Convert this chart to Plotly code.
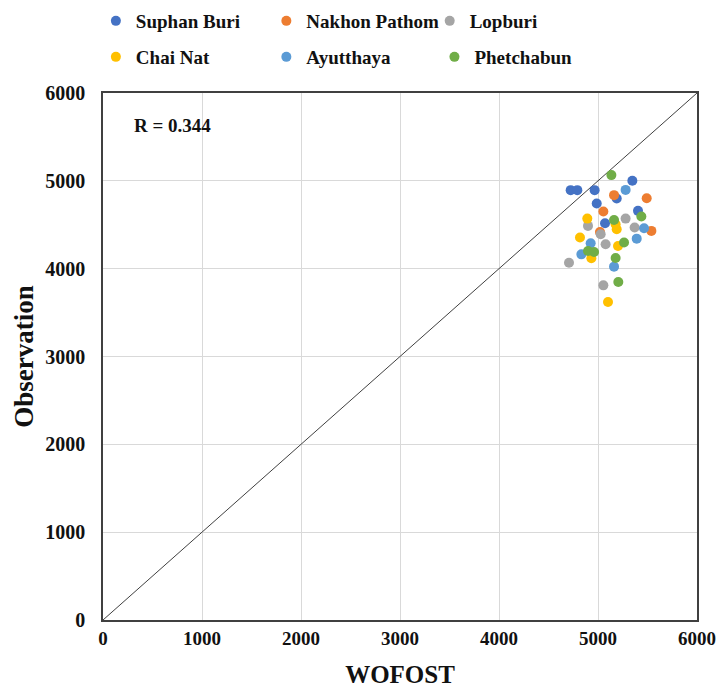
import plotly.graph_objects as go

# Data (WOFOST simulated vs observation)
suphan_x = [4724, 4791, 4966, 5347, 4987, 5189, 5404, 5071]
suphan_y = [4894, 4894, 4894, 5000, 4741, 4798, 4658, 4517]

nakhon_x = [5162, 5492, 5054, 5539, 5020]
nakhon_y = [4837, 4802, 4650, 4430, 4418]

lopburi_x = [5279, 4899, 5027, 5077, 4707, 5054, 5370]
lopburi_y = [4570, 4487, 4392, 4278, 4068, 3810, 4468]

chainat_x = [4892, 5189, 4818, 5202, 4933, 5101, 5178]
chainat_y = [4570, 4449, 4354, 4259, 4118, 3620, 4506]

ayutthaya_x = [5279, 5465, 5391, 4926, 4832, 5162]
ayutthaya_y = [4897, 4460, 4342, 4289, 4163, 4023]

phet_x = [5135, 5438, 5162, 5263, 4899, 4960, 5178, 5205]
phet_y = [5065, 4593, 4555, 4297, 4202, 4190, 4122, 3848]

tick_vals = [0, 1000, 2000, 3000, 4000, 5000, 6000]
tick_text = ["0", "1000", "2000", "3000", "4000", "5000", "6000"]
r_text = "R = 0.344"

FONT = "Liberation Serif"

# name, x, y, colour, legend id, legend x (paper), legend y (paper)
series = [
    ("Suphan Buri", suphan_x, suphan_y, "#4472C4", "legend", -0.012, 1.1366),
    ("Nakhon Pathom", nakhon_x, nakhon_y, "#ED7D31", "legend2", 0.275, 1.1366),
    ("Lopburi", lopburi_x, lopburi_y, "#A5A5A5", "legend3", 0.550, 1.1366),
    ("Chai Nat", chainat_x, chainat_y, "#FFC000", "legend4", -0.012, 1.0683),
    ("Ayutthaya", ayutthaya_x, ayutthaya_y, "#5B9BD5", "legend5", 0.275, 1.0683),
    ("Phetchabun", phet_x, phet_y, "#70AD47", "legend6", 0.558, 1.0683),
]

fig = go.Figure()

# 1:1 line
fig.add_trace(go.Scatter(x=[0, 6000], y=[0, 6000], mode="lines",
                         line=dict(color="#404040", width=1), showlegend=False,
                         hoverinfo="skip"))

legends = {}
for name, xs, ys, color, lg, lx, ly in series:
    fig.add_trace(go.Scatter(x=xs, y=ys, mode="markers", name="<b>" + name + "</b>",
                             marker=dict(color=color, size=10, line=dict(width=0)),
                             legend=lg))
    legends[lg] = dict(x=lx, y=ly, xanchor="left", yanchor="middle",
                       orientation="h", itemwidth=30,
                       font=dict(family=FONT, size=19, color="#111111"),
                       bgcolor="rgba(0,0,0,0)", borderwidth=0)

bold_ticks = ["<b>" + t + "</b>" for t in tick_text]

# plot area: x 103..697, y 93..620 (height 527)
fig.update_layout(
    width=716, height=690,
    margin=dict(l=103, r=19, t=93, b=70, autoexpand=False),
    paper_bgcolor="white", plot_bgcolor="white",
    font=dict(family=FONT, color="#111111"),
    xaxis=dict(range=[0, 6000], tickvals=tick_vals, ticktext=bold_ticks, showgrid=True,
               gridcolor="#D9D9D9", gridwidth=1, zeroline=False,
               showline=True, linecolor="#404040", linewidth=1.5, mirror=True,
               ticks="", automargin=False, ticklabeloverflow="allow",
               tickfont=dict(family=FONT, size=19),
               title=dict(text="<b>WOFOST</b>", font=dict(family=FONT, size=25),
                          standoff=18)),
    yaxis=dict(range=[0, 6000], tickvals=tick_vals, ticktext=bold_ticks, showgrid=True,
               gridcolor="#D9D9D9", gridwidth=1, zeroline=False,
               showline=True, linecolor="#404040", linewidth=1.5, mirror=True,
               ticks="", automargin=False, ticklabelstandoff=12,
               tickfont=dict(family=FONT, size=20),
               title=dict(text="<b>Observation</b>", font=dict(family=FONT, size=27),
                          standoff=4)),
    annotations=[dict(x=290, y=5625, xref="x", yref="y", text="<b>" + r_text + "</b>",
                      showarrow=False, xanchor="left", yanchor="middle",
                      font=dict(family=FONT, size=19, color="#111111"))],
    **legends,
)

fig.write_html("out.html", config={"displayModeBar": False},
               post_script="document.body.style.margin='0';")
